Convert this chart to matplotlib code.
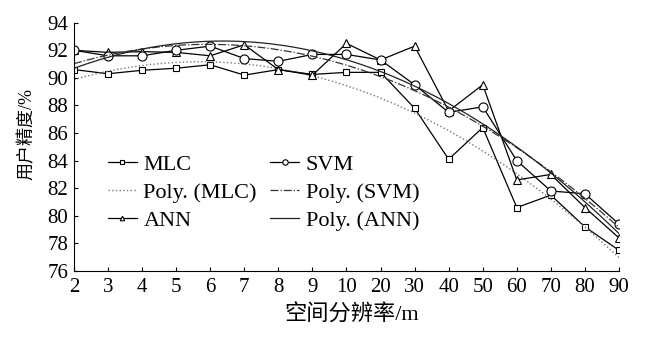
import matplotlib
matplotlib.use('Agg')
import matplotlib.pyplot as plt
import numpy as np

# spatial resolution categories (m)
resolution = ['2', '3', '4', '5', '6', '7', '8', '9', '10', '20', '30',
	'40', '50', '60', '70', '80', '90']

# user accuracy (%)
mlc = [90.6, 90.3, 90.55, 90.7, 90.95, 90.2, 90.6, 90.25, 90.4, 90.4, 87.8,
	84.1, 86.4, 80.6, 81.5, 79.2, 77.5]
svm = [92.0, 91.6, 91.6, 92.0, 92.3, 91.4, 91.2, 91.7, 91.7, 91.3, 89.5,
	87.5, 87.9, 84.0, 81.8, 81.6, 79.4]
ann = [92.0, 91.85, 91.9, 91.85, 91.6, 92.4, 90.6, 90.2, 92.5, 91.3, 92.3,
	87.6, 89.5, 82.6, 83.0, 80.6, 78.4]


def main():
	plt.rcParams['font.family'] = ['Liberation Serif', 'Noto Sans CJK SC']
	plt.rcParams['font.size'] = 15

	fig = plt.figure(figsize=(6.5, 3.46), dpi=100)
	ax = fig.add_axes([0.1138, 0.2168, 0.8385, 0.7176])

	x = np.arange(1, len(resolution) + 1)
	xs = np.linspace(1, len(resolution), 200)

	# Excel style polynomial trend lines (order 2)
	fit_mlc = np.polyval(np.polyfit(x, mlc, 2), xs)
	fit_svm = np.polyval(np.polyfit(x, svm, 2), xs)
	fit_ann = np.polyval(np.polyfit(x, ann, 2), xs)

	h1, = ax.plot(x, mlc, '-s', color='black', lw=0.9, ms=4.5,
		mfc='white', mew=0.8, label='MLC')
	h2, = ax.plot(xs, fit_mlc, ':', color='#777777', lw=1.0, label='Poly. (MLC)')
	h3, = ax.plot(x, ann, '-^', color='black', lw=0.9, ms=5.5,
		mfc='white', mew=0.8, label='ANN')
	h4, = ax.plot(x, svm, '-o', color='black', lw=0.9, ms=6.5,
		mfc='white', mew=0.8, label='SVM')
	h5, = ax.plot(xs, fit_svm, '-.', color='#333333', lw=0.9, label='Poly. (SVM)')
	h6, = ax.plot(xs, fit_ann, '-', color='#222222', lw=0.9, label='Poly. (ANN)')

	ax.set_xlim(1, len(resolution))
	ax.set_ylim(76, 94)
	ax.set_xticks(x)
	ax.set_xticklabels(resolution)
	ax.set_yticks(np.arange(76, 95, 2))
	ax.tick_params(direction='in', length=3, width=0.8)
	ax.tick_params(axis='x', pad=5)
	ax.tick_params(axis='y', pad=4)

	ax.spines['top'].set_visible(False)
	ax.spines['right'].set_visible(False)

	ax.set_xlabel('空间分辨率/m', fontsize=16, va='top')
	ax.xaxis.set_label_coords(0.509, -0.135)
	ax.set_ylabel('用户精度/%', fontsize=13)
	ax.yaxis.set_label_coords(-0.07, 0.55)

	ax.legend(handles=[h1, h2, h3, h4, h5, h6], ncol=2, frameon=False,
		loc='upper left', bbox_to_anchor=(0.062, 0.47), borderaxespad=0,
		borderpad=0, handlelength=1.3, handletextpad=0.3,
		columnspacing=0.6, labelspacing=0.33, markerscale=0.6, fontsize=16)

	fig.savefig('out.png', dpi=100)


if __name__ == '__main__':
	main()
